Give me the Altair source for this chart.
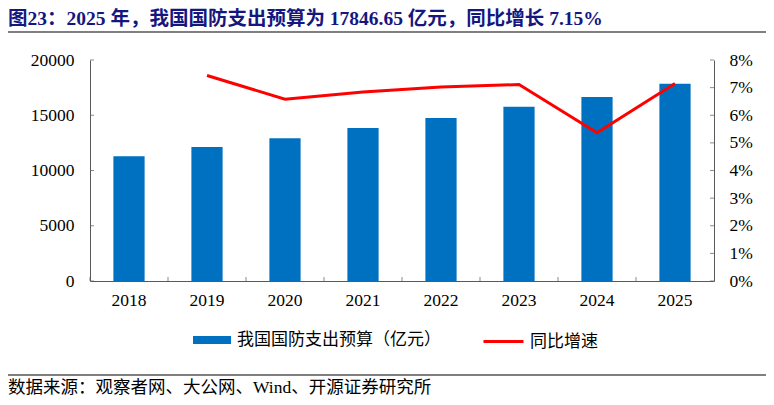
import altair as alt
import pandas as pd

# ---- data ----
years = ["2018", "2019", "2020", "2021", "2022", "2023", "2024", "2025"]
budget = [11280, 12120, 12918, 13846, 14751, 15780, 16650, 17846.65]
growth = [None, 0.0744, 0.0658, 0.0684, 0.0702, 0.0711, 0.0537, 0.0715]
left_ticks = [0, 5000, 10000, 15000, 20000]
right_ticks = [0, 0.01, 0.02, 0.03, 0.04, 0.05, 0.06, 0.07, 0.08]

title_text = "图23：2025 年，我国国防支出预算为 17846.65 亿元，同比增长 7.15%"
bar_name = "我国国防支出预算（亿元）"
line_name = "同比增速"
source_text = "数据来源：观察者网、大公网、Wind、开源证券研究所"

# ---- styling ----
W, H = 624, 221
FONT = "Liberation Serif, Noto Sans CJK SC"
AXIS_COLOR = "#595959"
BAR_COLOR = "#0070C0"
LINE_COLOR = "#FF0000"
TITLE_COLOR = "#16167F"

df = pd.DataFrame({"year": years, "budget": budget, "growth": growth,
                   "bar": bar_name, "line": line_name})

x_scale = alt.Scale(type="band", paddingInner=0, paddingOuter=0)
left_scale = alt.Scale(domain=[0, 20000], nice=False)
right_scale = alt.Scale(domain=[0, 0.08], nice=False)

x_axis = alt.Axis(title=None, labelAngle=0, tickSize=0, labelPadding=10,
                  domainColor=AXIS_COLOR, labelFont=FONT, labelFontSize=17.5,
                  labelColor="black")
left_axis = alt.Axis(title=None, orient="left", values=left_ticks, format="d",
                     tickSize=0, labelPadding=16, domainColor=AXIS_COLOR,
                     grid=False, labelFont=FONT, labelFontSize=17.5,
                     labelColor="black")
right_axis = alt.Axis(title=None, orient="right", values=right_ticks, format=".0%",
                      tickSize=0, labelPadding=15, domainColor=AXIS_COLOR,
                      grid=False, labelFont=FONT, labelFontSize=17.5,
                      labelColor="black")

bars = alt.Chart(df).mark_bar(width=alt.RelativeBandSize(0.4)).encode(
    x=alt.X("year:N", sort=years, scale=x_scale, axis=x_axis),
    y=alt.Y("budget:Q", scale=left_scale, axis=left_axis),
    fill=alt.Fill("bar:N", scale=alt.Scale(domain=[bar_name], range=[BAR_COLOR]),
                  legend=alt.Legend(title=None, orient="none", legendX=103, legendY=261,
                                    symbolType="M-1,-0.21L1,-0.21L1,0.21L-1,0.21Z",
                                    symbolSize=1444, symbolStrokeWidth=0,
                                    labelFont=FONT, labelFontSize=17, labelColor="black",
                                    labelOffset=6, labelLimit=400, padding=0)),
)

left_tick_marks = alt.Chart(pd.DataFrame({"budget": left_ticks})).mark_tick(
    orient="horizontal", size=4, thickness=1, color=AXIS_COLOR
).encode(y=alt.Y("budget:Q", scale=left_scale, axis=left_axis), x=alt.value(2))

x_tick_marks = alt.Chart(pd.DataFrame({"year": years})).mark_tick(
    orient="vertical", size=4, thickness=1, color=AXIS_COLOR
).encode(x=alt.X("year:N", sort=years, scale=x_scale, bandPosition=0, axis=x_axis),
         y=alt.value(H - 2))

deco = pd.DataFrame({"t": [source_text], "title": [title_text]})
title = alt.Chart(deco).mark_text(align="left", baseline="middle", font=FONT,
                                  fontSize=19.5, fontWeight="bold",
                                  color=TITLE_COLOR).encode(
    text="title:N", x=alt.value(-82), y=alt.value(-41))
top_rule = alt.Chart(deco).mark_rule(color="black", strokeWidth=1.2).encode(
    x=alt.value(-84), x2=alt.value(680), y=alt.value(-28))
bottom_rule = alt.Chart(deco).mark_rule(color="black", strokeWidth=1.2).encode(
    x=alt.value(-84), x2=alt.value(680), y=alt.value(315))
source = alt.Chart(deco).mark_text(align="left", baseline="middle", font=FONT,
                                   fontSize=17.5, color="black").encode(
    text="t:N", x=alt.value(-82), y=alt.value(328))

line = alt.Chart(df).transform_filter("isValid(datum.growth)").mark_line(
    strokeWidth=3).encode(
    x=alt.X("year:N", sort=years, scale=x_scale, axis=x_axis),
    y=alt.Y("growth:Q", scale=right_scale, axis=right_axis),
    stroke=alt.Stroke("line:N", scale=alt.Scale(domain=[line_name], range=[LINE_COLOR]),
                      legend=alt.Legend(title=None, orient="none", legendX=392, legendY=260,
                                        symbolType="stroke", symbolSize=1600,
                                        symbolStrokeWidth=3, labelFont=FONT,
                                        labelFontSize=17, labelColor="black",
                                        labelOffset=5, labelLimit=400, padding=0)),
)

right_tick_marks = alt.Chart(pd.DataFrame({"growth": right_ticks})).mark_tick(
    orient="horizontal", size=4, thickness=1, color=AXIS_COLOR
).encode(y=alt.Y("growth:Q", scale=right_scale, axis=right_axis), x=alt.value(W - 2))

left = alt.layer(bars, left_tick_marks, x_tick_marks, title, top_rule, bottom_rule, source)
right = alt.layer(line, right_tick_marks)

chart = alt.layer(left, right).resolve_scale(y="independent").properties(
    width=W, height=H,
    padding={"left": 82, "top": 52, "right": 52, "bottom": 116},
    autosize=alt.AutoSizeParams(type="none"),
).configure_view(strokeWidth=0)

chart.save("out.html", embed_options={"renderer": "svg", "actions": False})
